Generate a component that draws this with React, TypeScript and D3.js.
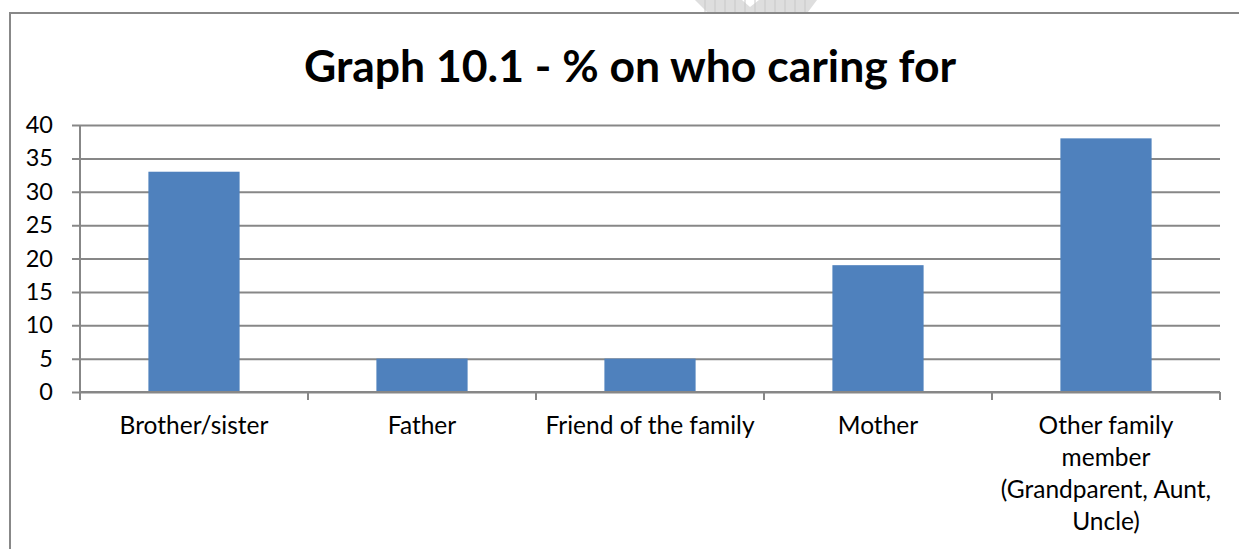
import React, { useEffect, useRef } from 'react';
import * as d3 from 'd3';

const categories = [
  'Brother/sister',
  'Father',
  'Friend of the family',
  'Mother',
  'Other family member (Grandparent, Aunt, Uncle)',
];
// label lines as they wrap in the original
const categoryLines = [
  ['Brother/sister'],
  ['Father'],
  ['Friend of the family'],
  ['Mother'],
  ['Other family', 'member', '(Grandparent, Aunt,', 'Uncle)'],
];
const values = [33, 5, 5, 19, 38];
const yTicks = [0, 5, 10, 15, 20, 25, 30, 35, 40];
const title = 'Graph 10.1 - % on who caring for';

const App: React.FC = () => {
  const svgRef = useRef<SVGSVGElement | null>(null);

  useEffect(() => {
    const width = 1239;
    const height = 549;
    const left = 80;
    const right = 1220;
    const top = 125;
    const bottom = 392;
    const font = 'Lato, "Open Sans", sans-serif';
    const gridColor = '#878787';

    const svg = d3.select(svgRef.current)
      .attr('width', width)
      .attr('height', height);
    svg.selectAll('*').remove();

    // faint logo remnant at the top of the page
    const wm = svg.append('g');
    wm.append('path')
      .attr('d', 'M695,0 L817,0 L808,12 L707,12 Z')
      .attr('fill', '#dedede');
    wm.append('path')
      .attr('d', 'M742,0 L759,0 L750,7 Z')
      .attr('fill', '#fff');
    d3.range(705, 815, 10).forEach(x => {
      wm.append('line')
        .attr('x1', x).attr('x2', x).attr('y1', 0).attr('y2', 12)
        .attr('stroke', '#c8c8c8').attr('stroke-width', 1);
    });

    // frame
    svg.append('path')
      .attr('d', `M10,${height} L10,13 L${width},13`)
      .attr('fill', 'none')
      .attr('stroke', '#888')
      .attr('stroke-width', 2);

    svg.append('text')
      .attr('x', 630)
      .attr('y', 82)
      .attr('text-anchor', 'middle')
      .style('font-family', font)
      .style('font-weight', 700)
      .style('font-size', '44.5px')
      .attr('fill', '#000')
      .text(title);

    const x = d3.scaleBand<string>()
      .domain(categories)
      .range([left, right])
      .paddingInner(0.6)
      .paddingOuter(0.3);

    const y = d3.scaleLinear().domain([0, 40]).range([bottom, top]);

    // gridlines + y ticks
    const yAxis = d3.axisLeft(y)
      .tickValues(yTicks)
      .tickSize(right - left + 8)
      .tickPadding(18);
    const ga = svg.append('g')
      .attr('transform', `translate(${right},0)`)
      .call(yAxis);
    ga.select('.domain').remove();
    ga.selectAll('.tick line')
      .attr('stroke', gridColor)
      .attr('stroke-width', 2);
    ga.selectAll('.tick text')
      .attr('x', -(right - left) - 27)
      .style('font-family', font)
      .style('font-size', '23.5px')
      .attr('fill', '#000');

    // y axis line
    svg.append('line')
      .attr('x1', left).attr('x2', left)
      .attr('y1', top).attr('y2', bottom)
      .attr('stroke', gridColor).attr('stroke-width', 2);

    svg.append('g')
      .selectAll('rect')
      .data(values)
      .join('rect')
      .attr('x', (_, i) => x(categories[i]) as number)
      .attr('width', x.bandwidth())
      .attr('y', d => y(d))
      .attr('height', d => y(0) - y(d))
      .attr('fill', '#4f81bd');

    // x axis with ticks at category boundaries
    svg.append('line')
      .attr('x1', left).attr('x2', right)
      .attr('y1', bottom).attr('y2', bottom)
      .attr('stroke', gridColor).attr('stroke-width', 2);
    const step = x.step();
    const bounds = d3.range(categories.length + 1).map(i => left + i * step);
    svg.append('g')
      .selectAll('line')
      .data(bounds)
      .join('line')
      .attr('x1', d => d).attr('x2', d => d)
      .attr('y1', bottom).attr('y2', bottom + 8)
      .attr('stroke', gridColor).attr('stroke-width', 2);

    const labels = svg.append('g')
      .selectAll('text')
      .data(categoryLines)
      .join('text')
      .attr('x', (_, i) => (x(categories[i]) as number) + x.bandwidth() / 2)
      .attr('y', 434)
      .attr('text-anchor', 'middle')
      .style('font-family', font)
      .style('font-size', '24.5px')
      .attr('fill', '#000');
    labels.each(function (lines, i) {
      const cx = (x(categories[i]) as number) + x.bandwidth() / 2;
      d3.select(this)
        .selectAll('tspan')
        .data(lines)
        .join('tspan')
        .attr('x', cx)
        .attr('dy', (_, j) => (j === 0 ? 0 : 32))
        .text(d => d);
    });
  }, []);

  return (
    <svg ref={svgRef} style={{ position: 'absolute', left: 0, top: 0 }}></svg>
  );
};

export default App;
